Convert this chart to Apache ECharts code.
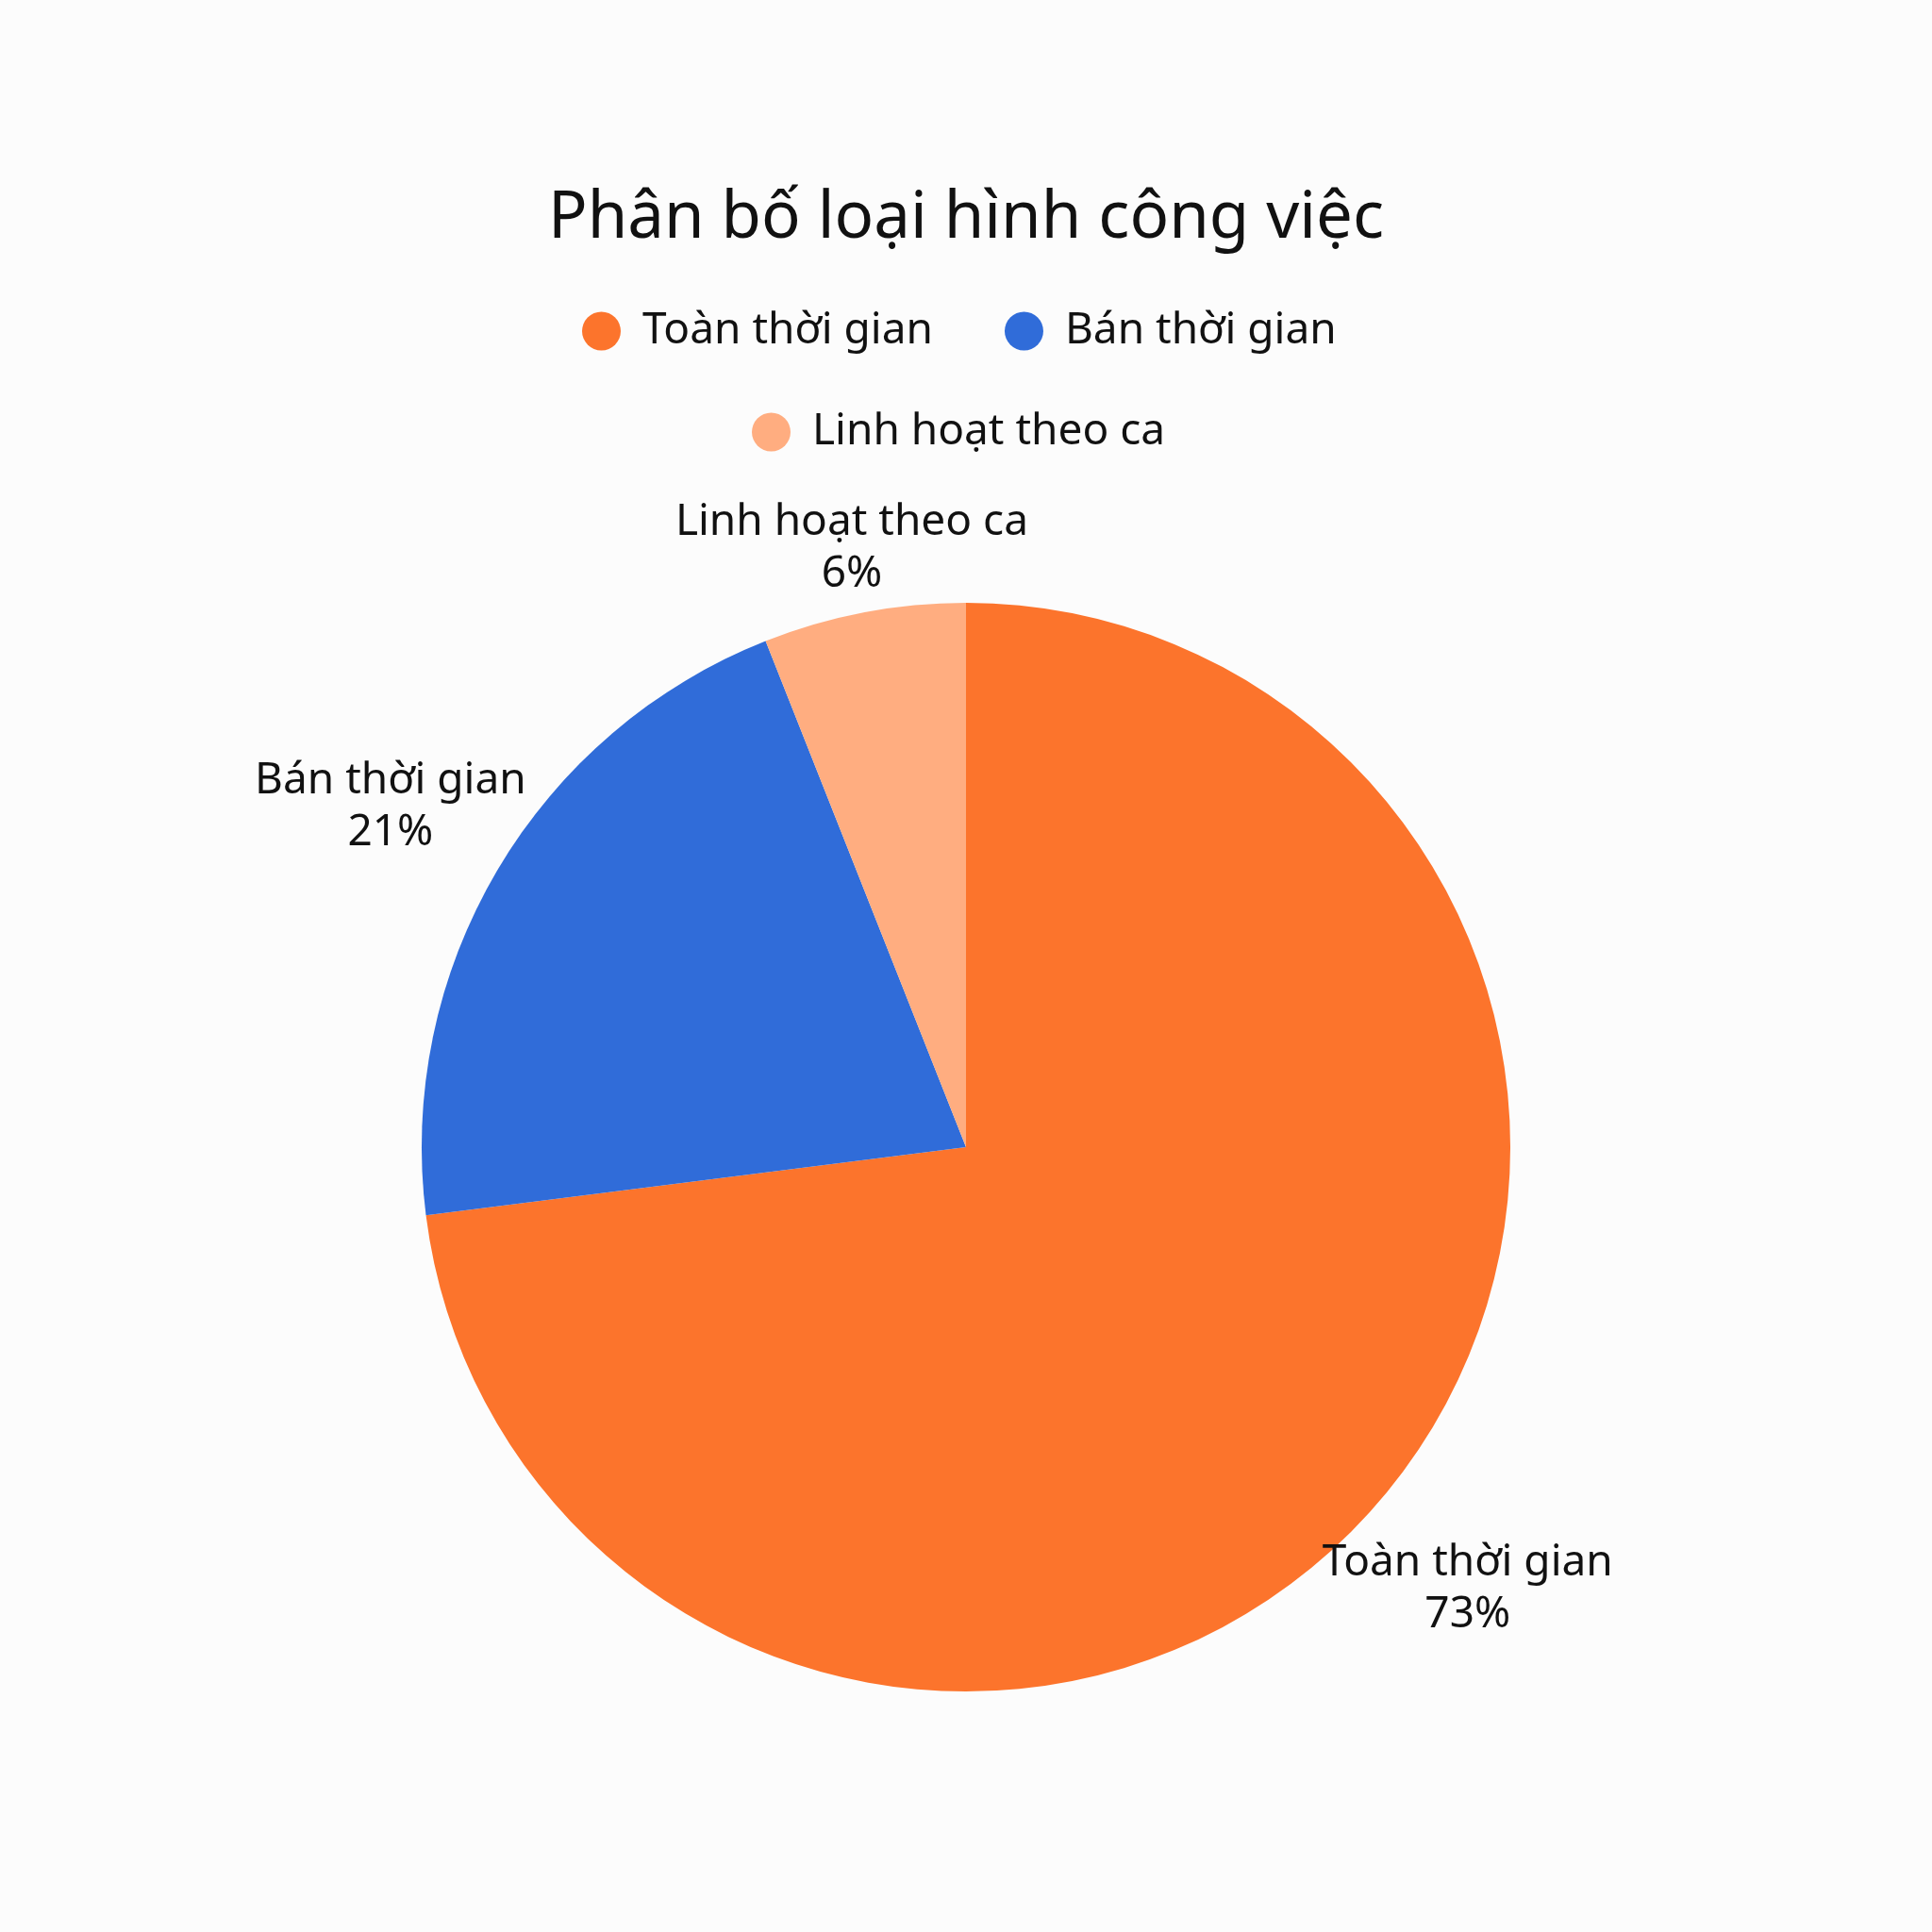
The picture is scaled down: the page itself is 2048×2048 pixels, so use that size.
<!DOCTYPE html>
<html>
<head>
<meta charset="utf-8">
<script src="https://cdn.jsdelivr.net/npm/echarts@6/dist/echarts.min.js"></script>
<style>
html,body{margin:0;padding:0;background:#FCFCFC;}
#c{width:2048px;height:2048px;}
</style>
</head>
<body>
<div id="c"></div>
<script>
const chartTitle = 'Phân bố loại hình công việc';
const categories = ['Toàn thời gian', 'Bán thời gian', 'Linh hoạt theo ca'];
const values = [73, 21, 6];
const colors = ['#FC742C', '#306CD9', '#FFAD80'];

const FONT = '"Noto Sans", sans-serif';
const TEXT_COLOR = '#111111';
const CENTER = ['50%', '59.375%'];
const RADIUS = '56.35%';
const LABEL_OFFSET = -20;

function pct(s) { return parseFloat(s) / 100; }
const total = values.reduce((a, b) => a + b, 0);

const chart = echarts.init(document.getElementById('c'));

function labelLayout(params) {
  const i = params.dataIndex;
  const w = chart.getWidth(), h = chart.getHeight();
  const cx = w * pct(CENTER[0]), cy = h * pct(CENTER[1]);
  const r = Math.min(w, h) / 2 * pct(RADIUS);
  let before = 0;
  for (let k = 0; k < i; k++) before += values[k];
  const mid = (90 - (before + values[i] / 2) / total * 360) * Math.PI / 180;
  const dx = Math.cos(mid), dy = -Math.sin(mid);
  const hw = params.labelRect.width / 2, hh = params.labelRect.height / 2;
  const support = hw * Math.abs(dx) + hh * Math.abs(dy);
  const D = r + LABEL_OFFSET + support;
  return { x: cx + dx * D, y: cy + dy * D, align: 'center', verticalAlign: 'middle' };
}

const legendText = { fontFamily: FONT, fontSize: 46, color: TEXT_COLOR, padding: [0, 0, 0, 18] };

const option = {
  animation: false,
  backgroundColor: '#FCFCFC',
  color: colors,
  title: {
    text: chartTitle,
    left: 'center',
    top: 193,
    textStyle: { fontFamily: FONT, fontSize: 69, fontWeight: 'normal', color: TEXT_COLOR }
  },
  legend: [
    {
      data: categories.slice(0, 2), left: 612, top: 323, padding: 5,
      icon: 'circle', itemWidth: 41, itemHeight: 41, itemGap: 76,
      textStyle: legendText
    },
    {
      data: categories.slice(2), left: 792, top: 430, padding: 5,
      icon: 'circle', itemWidth: 41, itemHeight: 41, itemGap: 76,
      textStyle: legendText
    }
  ],
  series: [{
    type: 'pie',
    center: CENTER,
    radius: RADIUS,
    startAngle: 90,
    clockwise: true,
    data: categories.map((n, i) => ({ name: n, value: values[i] })),
    label: {
      show: true,
      position: 'outside',
      formatter: '{b}\n{d}%',
      fontFamily: FONT,
      fontSize: 46,
      lineHeight: 55,
      color: TEXT_COLOR
    },
    labelLine: { show: false },
    labelLayout: labelLayout,
    emphasis: { disabled: true }
  }]
};
chart.setOption(option);
</script>
</body>
</html>
